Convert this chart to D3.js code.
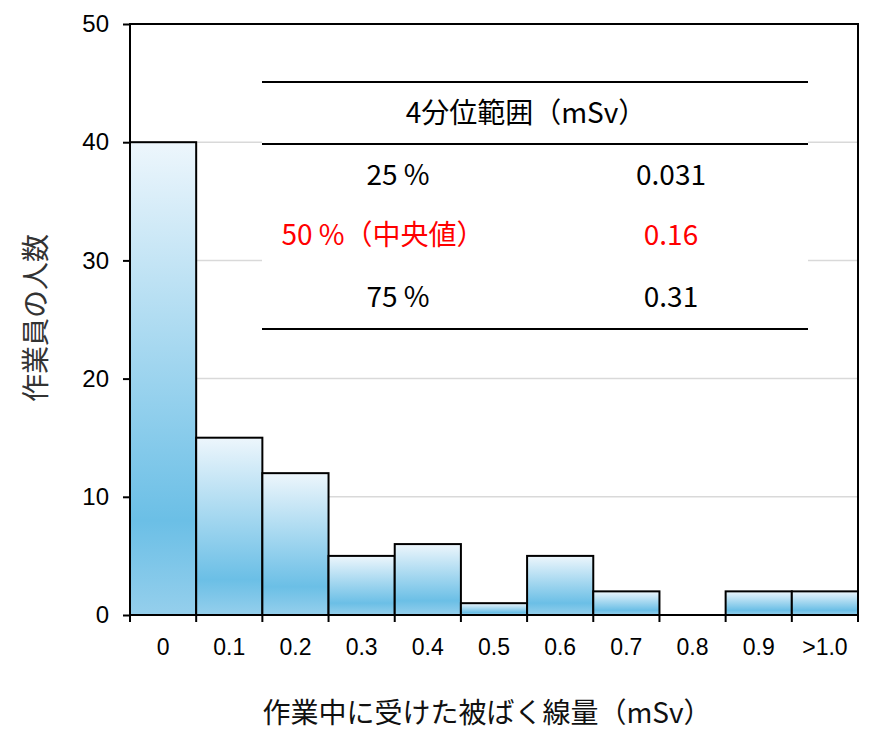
<!DOCTYPE html>
<html><head><meta charset="utf-8">
<script src="https://cdn.jsdelivr.net/npm/d3@7"></script>
<style>body{margin:0;background:#fff}</style>
</head><body>
<svg id="c" width="881" height="740"></svg>
<script>
const categories = ["0","0.1","0.2","0.3","0.4","0.5","0.6","0.7","0.8","0.9",">1.0"];
const counts = [40,15,12,5,6,1,5,2,0,2,2];
const yTicks = [0,10,20,30,40,50];
const tableTitle = "4分位範囲（mSv）";
const tableLabels = ["25 %","50 %（中央値）","75 %"];
const tableValues = ["0.031","0.16","0.31"];
const tableHighlight = [false,true,false];

const svg = d3.select("#c");
const L=130, R=858, T=24, B=615;
const x = d3.scaleBand().domain(categories).range([L,R]).padding(0);
const y = d3.scaleLinear().domain([0,50]).range([B,T]);
const latin = "Liberation Sans, Arial, sans-serif";
const cjk = "Noto Sans CJK JP, sans-serif";

const defs = svg.append("defs");
const g = defs.append("linearGradient").attr("id","bg").attr("x1",0).attr("y1",0).attr("x2",0).attr("y2",1);
g.append("stop").attr("offset","0%").attr("stop-color","#edf6fc");
g.append("stop").attr("offset","80%").attr("stop-color","#6bbfe6");
g.append("stop").attr("offset","100%").attr("stop-color","#95cfec");

// gridlines
svg.append("g").selectAll("line").data(yTicks.filter(d=>d>0&&d<50)).join("line")
  .attr("x1",L).attr("x2",R).attr("y1",d=>y(d)).attr("y2",d=>y(d))
  .attr("stroke","#d9d9d9").attr("stroke-width",1.5);

// table background
const tx1=262, tx2=808;
svg.append("rect").attr("x",tx1).attr("y",y(47.5)).attr("width",tx2-tx1).attr("height",y(24)-y(47.5)).attr("fill","#fff");

// bars
svg.append("g").selectAll("rect").data(counts).join("rect")
  .attr("x",(d,i)=>x(categories[i])).attr("width",x.bandwidth())
  .attr("y",d=>y(d)).attr("height",d=>y(0)-y(d))
  .attr("fill","url(#bg)").attr("stroke","#000").attr("stroke-width",2)
  .style("display",d=>d>0?null:"none");

// frame
svg.append("rect").attr("x",L).attr("y",T).attr("width",R-L).attr("height",B-T)
  .attr("fill","none").attr("stroke","#000").attr("stroke-width",2);

// y axis
const ya = svg.append("g").attr("transform",`translate(${L},0)`)
  .call(d3.axisLeft(y).tickValues(yTicks).tickSize(7).tickPadding(14));
ya.select(".domain").remove();
ya.selectAll("line").attr("stroke","#000").attr("stroke-width",2);
ya.selectAll("text").attr("font-family",latin).attr("font-size",24).attr("fill","#000");

// x axis ticks at boundaries
const bounds = categories.map(c=>x(c)).concat([R]);
svg.append("g").selectAll("line").data(bounds).join("line")
  .attr("x1",d=>d).attr("x2",d=>d).attr("y1",B).attr("y2",B+7)
  .attr("stroke","#000").attr("stroke-width",2);
svg.append("g").selectAll("text").data(categories).join("text")
  .attr("x",d=>x(d)+x.bandwidth()/2).attr("y",655)
  .attr("text-anchor","middle").attr("font-family",latin)
  .attr("font-size",23).attr("fill","#000").text(d=>d);

// axis titles
svg.append("text").attr("x",487).attr("y",723).attr("text-anchor","middle")
  .attr("font-family",cjk).attr("font-size",28).attr("fill","#111")
  .text("作業中に受けた被ばく線量（mSv）");
svg.append("text").attr("transform","translate(46,318) rotate(-90)").attr("text-anchor","middle")
  .attr("font-family",cjk).attr("font-size",28).attr("fill","#333")
  .text("作業員の人数");

// table
[82,144,329].forEach(yy=>svg.append("line").attr("x1",tx1).attr("x2",tx2).attr("y1",yy).attr("y2",yy)
  .attr("stroke","#000").attr("stroke-width",2));
svg.append("text").attr("x",526).attr("y",123).attr("text-anchor","middle")
  .attr("font-family",cjk).attr("font-size",28).attr("fill","#000").text(tableTitle);
const rowY=[185,245,307];
tableLabels.forEach((t,i)=>{
  svg.append("text").attr("x",i===1?383:398).attr("y",rowY[i]).attr("text-anchor","middle")
    .attr("font-family",cjk).attr("font-size",28).attr("fill",tableHighlight[i]?"#ff0000":"#000").text(t);
  svg.append("text").attr("x",671).attr("y",rowY[i]).attr("text-anchor","middle")
    .attr("font-family",cjk).attr("font-size",28).attr("fill",tableHighlight[i]?"#ff0000":"#000").text(tableValues[i]);
});
</script>
</body></html>
